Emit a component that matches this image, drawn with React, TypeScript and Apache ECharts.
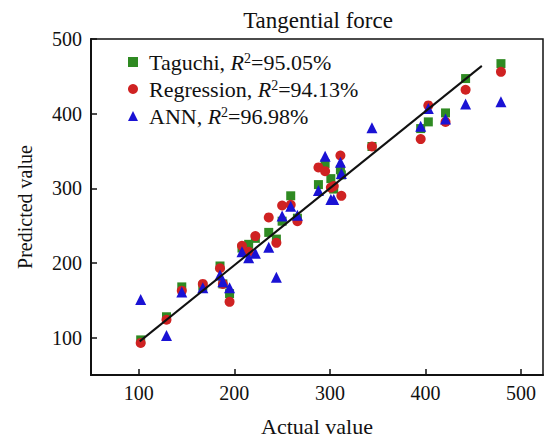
import React, { useEffect, useRef } from "react";
import * as echarts from "echarts";

const actual = [102, 129, 145, 167, 185, 188, 195, 208, 215, 222, 236, 244, 250, 259, 266, 288, 295, 301, 304, 311, 312, 344, 395, 403, 421, 442, 479];
const taguchi = [97, 128, 168, 169, 196, 172, 159, 220, 225, 233, 241, 232, 256, 290, 260, 305, 333, 313, 299, 325, 318, 356, 380, 389, 401, 447, 467];
const regression = [93, 124, 163, 172, 193, 172, 148, 223, 215, 236, 261, 227, 277, 278, 256, 328, 323, 301, 303, 344, 290, 356, 366, 411, 389, 432, 456];
const ann = [151, 103, 161, 167, 184, 175, 167, 215, 207, 213, 221, 181, 263, 276, 264, 297, 343, 285, 285, 335, 320, 381, 383, 407, 393, 413, 416];
const fitX = [101, 459];
const fitY = [95, 464];
const tickValues = [100, 200, 300, 400, 500];
const seriesNames = ["Taguchi", "Regression", "ANN"];
const r2Labels = ["95.05%", "94.13%", "96.98%"];

const FONT = "'Liberation Serif', 'Times New Roman', serif";

export default function App() {
  const ref = useRef<HTMLDivElement>(null);
  useEffect(() => {
    if (!ref.current) return;
    const chart = echarts.init(ref.current, undefined, { renderer: "svg" });
    const pts = (ys: number[]) => actual.map((x, i) => [x, ys[i]]);
    chart.setOption({
      animation: false,
      backgroundColor: "#fff",
      title: {
        text: "Tangential force",
        left: 313,
        top: 4,
        textAlign: "center",
        textStyle: { fontFamily: FONT, fontSize: 23, fontWeight: "normal", color: "#111" },
      },
      grid: {
        left: 91,
        right: 2,
        top: 39,
        bottom: 66,
        show: true,
        borderColor: "#111",
        borderWidth: 1.5,
      },
      legend: {
        orient: "vertical",
        left: 123,
        top: 46,
        itemWidth: 10,
        itemHeight: 10,
        itemGap: 5,
        data: seriesNames,
        formatter: (name: string) => {
          const i = seriesNames.indexOf(name);
          return `{p|}{n|${name}, }{i|R}{s|2}{n|=${r2Labels[i]}}`;
        },
        textStyle: {
          fontFamily: FONT,
          fontSize: 22,
          color: "#111",
          rich: {
            p: { width: 6 },
            n: { fontFamily: FONT, fontSize: 22, lineHeight: 21, color: "#111" },
            i: { fontFamily: FONT, fontSize: 22, lineHeight: 21, fontStyle: "italic", color: "#111" },
            s: { fontFamily: FONT, fontSize: 14, lineHeight: 14, verticalAlign: "top", color: "#111" },
          },
        },
      },
      xAxis: {
        type: "value",
        min: 50,
        max: 523,
        name: "Actual value",
        nameLocation: "middle",
        nameGap: 40,
        nameTextStyle: { fontFamily: FONT, fontSize: 22, color: "#111" },
        axisLine: { show: true, lineStyle: { color: "#111", width: 2 } },
        axisTick: { show: true, inside: true, length: 6, customValues: tickValues, lineStyle: { color: "#111", width: 1.5 } },
        axisLabel: { customValues: tickValues, fontFamily: FONT, fontSize: 20, color: "#111", margin: 8 },
        splitLine: { show: false },
      },
      yAxis: {
        type: "value",
        min: 50,
        max: 500,
        name: "Predicted value",
        nameLocation: "middle",
        nameGap: 56,
        nameTextStyle: { fontFamily: FONT, fontSize: 20, color: "#111" },
        axisLine: { show: true, lineStyle: { color: "#111", width: 2 } },
        axisTick: { show: true, inside: true, length: 6, customValues: tickValues, lineStyle: { color: "#111", width: 1.5 } },
        axisLabel: { customValues: tickValues, fontFamily: FONT, fontSize: 20, color: "#111", margin: 9 },
        splitLine: { show: false },
      },
      series: [
        {
          name: "Taguchi",
          type: "scatter",
          symbol: "rect",
          symbolSize: 9,
          itemStyle: { color: "#2f8a22", opacity: 1 },
          data: pts(taguchi),
          z: 3,
        },
        {
          name: "Regression",
          type: "scatter",
          symbol: "circle",
          symbolSize: 10,
          itemStyle: { color: "#cf2222", opacity: 1 },
          data: pts(regression),
          z: 4,
        },
        {
          name: "ANN",
          type: "scatter",
          symbol: "triangle",
          symbolSize: 11,
          itemStyle: { color: "#1a12d4", opacity: 1 },
          data: pts(ann),
          z: 5,
        },
        {
          name: "fit",
          type: "line",
          symbol: "none",
          data: fitX.map((x, i) => [x, fitY[i]]),
          lineStyle: { color: "#111", width: 2 },
          z: 6,
          silent: true,
        },
      ],
    });
    return () => chart.dispose();
  }, []);
  return <div ref={ref} style={{ width: 545, height: 442, position: "absolute", left: 0, top: 0 }} />;
}
